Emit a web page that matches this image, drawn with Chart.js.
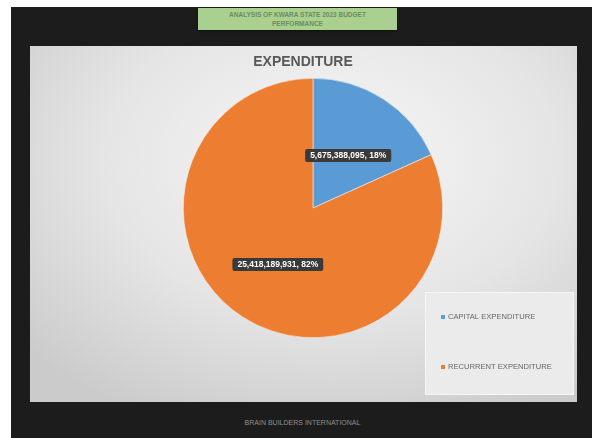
<!DOCTYPE html>
<html>
<head>
<meta charset="utf-8">
<script src="https://cdn.jsdelivr.net/npm/chart.js@4.4.1/dist/chart.umd.min.js"></script>
<style>
  html, body { margin: 0; padding: 0; }
  body { width: 599px; height: 438px; background: #ffffff; position: relative; overflow: hidden; }
  #frame { position: absolute; left: 11px; top: 7px; width: 581px; height: 431px; background: #1c1c1c; }
  #banner {
    position: absolute; left: 198px; top: 8px; width: 199px; height: 22px;
    background: #a9d08e; color: #6e8c5f; font: bold 6.5px "Liberation Sans", sans-serif;
    text-align: center; line-height: 9px; padding-top: 2px; box-sizing: border-box;
    box-shadow: 0 1px 2px rgba(0,0,0,0.5);
  }
  #panel {
    position: absolute; left: 30px; top: 46px; width: 547px; height: 356px;
    background: radial-gradient(ellipse 75% 80% at 55% 32%, #f7f7f7 0%, #e5e5e5 55%, #cbcbcb 100%);
  }
  #title {
    position: absolute; left: 203px; top: 53px; width: 200px; text-align: center;
    color: #595959; font: bold 14px "Liberation Sans", sans-serif;
  }
  #footer {
    position: absolute; left: 0; top: 419px; width: 605px; text-align: center;
    color: #8f8f8f; font: 7px "Liberation Sans", sans-serif;
  }
</style>
</head>
<body>
<div id="frame"></div>
<div id="banner">ANALYSIS OF KWARA STATE 2023 BUDGET<br>PERFORMANCE</div>
<div id="panel"><canvas id="pie"></canvas></div>
<div id="title">EXPENDITURE</div>
<div id="footer">BRAIN BUILDERS INTERNATIONAL</div>
<script>
const categories = ['CAPITAL EXPENDITURE', 'RECURRENT EXPENDITURE'];
const amounts = [5675388095, 25418189931];
const sliceColors = ['#5b9bd5', '#ed7d31'];

// value + percent boxes in the middle of each slice
const sliceLabels = {
  id: 'sliceLabels',
  afterDatasetsDraw(chart) {
    const ctx = chart.ctx;
    const values = chart.data.datasets[0].data;
    const total = values.reduce((a, b) => a + b, 0);
    chart.getDatasetMeta(0).data.forEach((arc, i) => {
      const pos = arc.tooltipPosition();
      const text = values[i].toLocaleString('en-US') + ', ' + Math.round(values[i] / total * 100) + '%';
      ctx.save();
      ctx.font = 'bold 8.5px "Liberation Sans", sans-serif';
      const w = ctx.measureText(text).width + 10;
      const h = 13;
      ctx.fillStyle = '#3a3a3a';
      ctx.beginPath();
      ctx.roundRect(pos.x - w / 2, pos.y + 2 - h / 2, w, h, 2);
      ctx.fill();
      ctx.fillStyle = '#ffffff';
      ctx.textAlign = 'center';
      ctx.textBaseline = 'middle';
      ctx.fillText(text, pos.x, pos.y + 2.5);
      ctx.restore();
    });
  }
};

// boxed legend in the lower right corner
const boxLegend = {
  id: 'boxLegend',
  afterDraw(chart) {
    const ctx = chart.ctx;
    const ds = chart.data.datasets[0];
    ctx.save();
    ctx.fillStyle = '#ebebeb';
    ctx.strokeStyle = '#f6f6f6';
    ctx.lineWidth = 1;
    ctx.fillRect(395, 246, 149, 103);
    ctx.strokeRect(395.5, 246.5, 148, 102);
    ctx.font = '7.6px "Liberation Sans", sans-serif';
    ctx.textBaseline = 'middle';
    chart.data.labels.forEach((lab, i) => {
      const y = 271 + i * 50;
      ctx.fillStyle = ds.backgroundColor[i];
      ctx.fillRect(411, y - 2, 4, 4);
      ctx.fillStyle = '#666666';
      ctx.fillText(lab, 418, y);
    });
    ctx.restore();
  }
};

new Chart(document.getElementById('pie'), {
  type: 'pie',
  data: {
    labels: categories,
    datasets: [{
      data: amounts,
      backgroundColor: sliceColors,
      borderColor: '#eeeeee',
      borderWidth: 0.6
    }]
  },
  plugins: [sliceLabels, boxLegend],
  options: {
    responsive: true,
    maintainAspectRatio: false,
    animation: false,
    layout: { padding: { left: 153, right: 134, top: 32, bottom: 64 } },
    plugins: {
      legend: { display: false },
      tooltip: { enabled: false },
      title: { display: false }
    }
  }
});
</script>
</body>
</html>
